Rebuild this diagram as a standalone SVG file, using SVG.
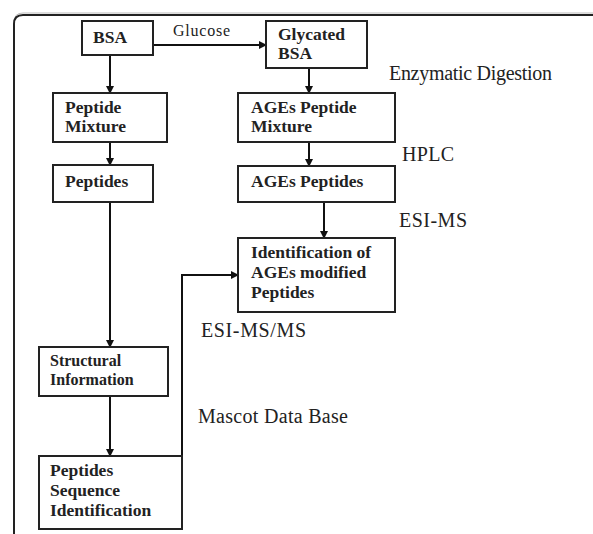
<svg xmlns="http://www.w3.org/2000/svg" width="593" height="534" viewBox="0 0 593 534">
<defs>
<marker id="ah" markerWidth="8" markerHeight="8" refX="7" refY="4" orient="auto" markerUnits="userSpaceOnUse">
<path d="M0,0 L8,4 L0,8 Z" fill="#111"/>
</marker>
<style>
.box{fill:#fff;stroke:#222;stroke-width:2}
.bt{font-family:"Liberation Serif","Times New Roman",serif;font-weight:bold;font-size:17.5px;fill:#222}
.st{font-family:"Liberation Serif","Times New Roman",serif;font-weight:bold;font-size:16px;fill:#222}
.lb{font-family:"Liberation Serif","Times New Roman",serif;font-size:20px;fill:#222}
.gl{font-family:"Liberation Serif","Times New Roman",serif;font-size:16px;fill:#222}
.c{fill:none;stroke:#111;stroke-width:2}
</style>
</defs>
<rect width="593" height="534" fill="#fff"/>
<path d="M14,534 V24 Q14,15 23,15 H593" fill="none" stroke="#bbb" stroke-width="1" transform="translate(0,-2)"/>
<path d="M14,534 V24 Q14,15 23,15 H593" fill="none" stroke="#222" stroke-width="2"/>
<g id="connectors">
<path class="c" d="M153,45 H266" marker-end="url(#ah)"/>
<path class="c" d="M110,55 V93" marker-end="url(#ah)"/>
<path class="c" d="M110,142 V165" marker-end="url(#ah)"/>
<path class="c" d="M110,202 V347" marker-end="url(#ah)"/>
<path class="c" d="M110,396 V456" marker-end="url(#ah)"/>
<path class="c" d="M309,68 V93" marker-end="url(#ah)"/>
<path class="c" d="M309,142 V166" marker-end="url(#ah)"/>
<path class="c" d="M324,202 V238" marker-end="url(#ah)"/>
<path class="c" d="M182,456 V275 H238" marker-end="url(#ah)"/>
</g>
<g id="labels">
<text class="gl" x="173" y="36" textLength="57">Glucose</text>
<text class="lb" x="389" y="80" textLength="163">Enzymatic Digestion</text>
<text class="lb" x="402" y="161" textLength="52">HPLC</text>
<text class="lb" x="399" y="227" textLength="68">ESI-MS</text>
<text class="lb" x="201" y="337" textLength="105">ESI-MS/MS</text>
<text class="lb" x="198" y="423" textLength="150">Mascot Data Base</text>
</g>
<g id="bsa"><rect class="box" x="82" y="21" width="71" height="34"/><text class="bt" x="93" y="43">BSA</text></g>
<g id="glycated"><rect class="box" x="266" y="21" width="101" height="47"/><text class="bt" x="278" y="40">Glycated</text><text class="bt" x="278" y="59">BSA</text></g>
<g id="peptide-mixture"><rect class="box" x="53" y="93" width="114" height="49"/><text class="bt" x="65" y="113">Peptide</text><text class="bt" x="65" y="132">Mixture</text></g>
<g id="ages-mixture"><rect class="box" x="238" y="93" width="157" height="49"/><text class="bt" x="251" y="113">AGEs Peptide</text><text class="bt" x="251" y="132">Mixture</text></g>
<g id="peptides"><rect class="box" x="53" y="165" width="100" height="37"/><text class="bt" x="65" y="187">Peptides</text></g>
<g id="ages-peptides"><rect class="box" x="238" y="166" width="157" height="36"/><text class="bt" x="251" y="187">AGEs Peptides</text></g>
<g id="identification"><rect class="box" x="238" y="238" width="157" height="74"/><text class="bt" x="251" y="258">Identification of</text><text class="bt" x="251" y="278">AGEs modified</text><text class="bt" x="251" y="298">Peptides</text></g>
<g id="structural"><rect class="box" x="39" y="347" width="129" height="49"/><text class="st" x="50" y="366">Structural</text><text class="st" x="50" y="385">Information</text></g>
<g id="sequence"><rect class="box" x="39" y="456" width="143" height="73"/><text class="bt" x="50" y="476">Peptides</text><text class="bt" x="50" y="496">Sequence</text><text class="bt" x="50" y="516">Identification</text></g>
</svg>
